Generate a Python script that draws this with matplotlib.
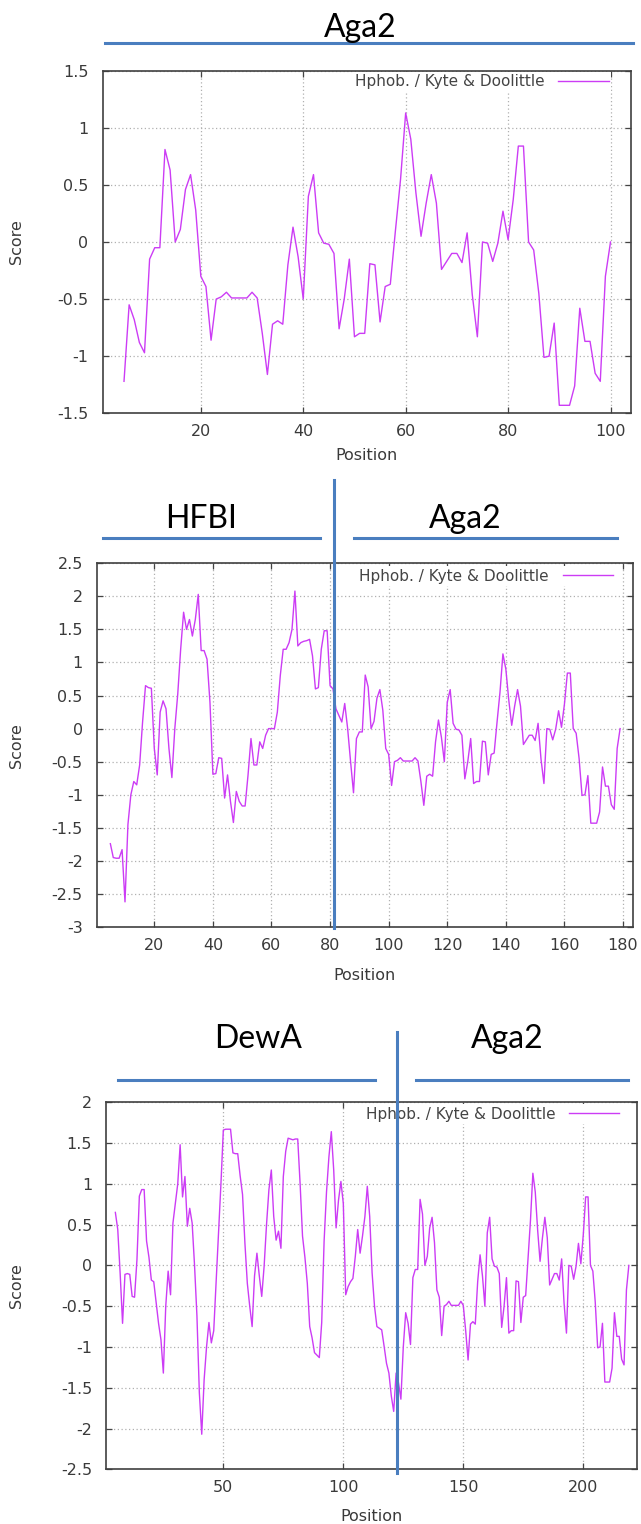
import numpy as np
import matplotlib
matplotlib.use("Agg")
import matplotlib.pyplot as plt
import matplotlib.transforms as mtransforms
from matplotlib.ticker import FuncFormatter, MultipleLocator

# ---------------- data (Kyte & Doolittle hydropathy, window 9) ----------------
# Aga2 alone, positions 5..100
aga2_start = 5
aga2_scores = [
    -1.22, -0.55, -0.68, -0.88, -0.97, -0.15, -0.05, -0.05, 0.81, 0.63,   # 5-14
    0.00, 0.11, 0.46, 0.59, 0.28, -0.30, -0.39, -0.86, -0.50, -0.48,      # 15-24
    -0.44, -0.49, -0.49, -0.49, -0.49, -0.44, -0.49, -0.80, -1.16, -0.72, # 25-34
    -0.69, -0.72, -0.20, 0.13, -0.13, -0.50, 0.40, 0.59, 0.08, -0.01,     # 35-44
    -0.02, -0.10, -0.76, -0.50, -0.15, -0.83, -0.80, -0.80, -0.19, -0.20, # 45-54
    -0.70, -0.39, -0.37, 0.10, 0.55, 1.13, 0.90, 0.43, 0.05, 0.34,        # 55-64
    0.59, 0.34, -0.24, -0.17, -0.10, -0.10, -0.18, 0.08, -0.46, -0.83,    # 65-74
    0.00, -0.01, -0.17, -0.01, 0.27, 0.02, 0.37, 0.84, 0.84, 0.00,        # 75-84
    -0.07, -0.45, -1.01, -1.00, -0.71, -1.43, -1.43, -1.43, -1.26, -0.58, # 85-94
    -0.87, -0.87, -1.15, -1.22, -0.30, 0.00,                              # 95-100
]

# HFBI-Aga2 fusion, positions 5..87 (the rest continues the Aga2 profile)
hfbi_start = 5
hfbi_head = [
    -1.74, -1.95, -1.96, -1.96, -1.83, -2.62, -1.45, -1.00, -0.80, -0.85,  # 5-14
    -0.55, 0.10, 0.65, 0.62, 0.61, -0.30, -0.70, 0.25, 0.42, 0.30,         # 15-24
    -0.30, -0.74, 0.00, 0.52, 1.20, 1.76, 1.50, 1.65, 1.40, 1.65,          # 25-34
    2.03, 1.18, 1.18, 1.05, 0.40, -0.69, -0.68, -0.44, -0.45, -1.05,       # 35-44
    -0.70, -1.10, -1.42, -0.95, -1.10, -1.17, -1.17, -0.70, -0.15, -0.55,  # 45-54
    -0.55, -0.20, -0.30, -0.10, 0.00, 0.00, 0.00, 0.25, 0.80, 1.20,        # 55-64
    1.20, 1.30, 1.50, 2.08, 1.25, 1.30, 1.32, 1.33, 1.35, 1.10,            # 65-74
    0.60, 0.62, 1.20, 1.48, 1.48, 0.65, 0.60, 0.30, 0.20, 0.10,            # 75-84
    0.38, 0.00, -0.50,                                                     # 85-87
]

# DewA-Aga2 fusion, positions 5..127 (the rest continues the Aga2 profile)
dewa_start = 5
dewa_head = [
    0.65, 0.44, -0.10, -0.71, -0.11, -0.10, -0.11, -0.38, -0.39, 0.07,     # 5-14
    0.85, 0.93, 0.93, 0.30, 0.10, -0.18, -0.20, -0.46, -0.71, -0.91,       # 15-24
    -1.32, -0.50, -0.07, -0.36, 0.52, 0.76, 1.00, 1.48, 0.84, 1.09,        # 25-34
    0.48, 0.70, 0.52, 0.00, -0.62, -1.56, -2.07, -1.40, -1.00, -0.70,      # 35-44
    -0.95, -0.80, -0.20, 0.40, 1.00, 1.66, 1.67, 1.67, 1.67, 1.38,         # 45-54
    1.37, 1.37, 1.10, 0.87, 0.27, -0.22, -0.50, -0.75, -0.13, 0.15,        # 55-64
    -0.13, -0.38, -0.01, 0.50, 0.93, 1.17, 0.60, 0.31, 0.42, 0.21,         # 65-74
    1.09, 1.40, 1.56, 1.55, 1.54, 1.55, 1.55, 1.00, 0.36, 0.10,            # 75-84
    -0.22, -0.75, -0.89, -1.07, -1.10, -1.13, -0.70, 0.30, 0.90, 1.33,     # 85-94
    1.64, 1.17, 0.46, 0.80, 1.03, 0.76, -0.36, -0.26, -0.20, -0.16,        # 95-104
    0.11, 0.44, 0.15, 0.36, 0.60, 0.97, 0.60, -0.09, -0.50, -0.75,         # 105-114
    -0.77, -0.79, -0.99, -1.20, -1.32, -1.60, -1.79, -1.32, -1.44, -1.64,  # 115-124
    -1.00, -0.58, -0.71,                                                   # 125-127
]
aga2_tail_from = 4          # Aga2 values from its position 9 onward
hfbi_junction = 81.3        # HFBI | Aga2 boundary (position)
dewa_junction = 122.4       # DewA | Aga2 boundary (position)

legend_label = "Hphob. / Kyte & Doolittle"

panels = [
    dict(start=aga2_start, scores=aga2_scores, xlim=(0.8, 104.0), ylim=(-1.5, 1.5),
         xtick=20, ytick=0.5, junction=None),
    dict(start=hfbi_start, scores=hfbi_head + aga2_scores[aga2_tail_from:],
         xlim=(0.34, 183.3), ylim=(-3.0, 2.5), xtick=20, ytick=0.5, junction=hfbi_junction),
    dict(start=dewa_start, scores=dewa_head + aga2_scores[aga2_tail_from:],
         xlim=(1.1, 222.4), ylim=(-2.5, 2.0), xtick=50, ytick=0.5, junction=dewa_junction),
]

# ---------------- layout (pixels) ----------------
W, H = 641, 1524
rects = [(102.5, 70.7, 631.0, 413.3), (96.7, 563.3, 632.7, 927.0), (106.0, 1102.3, 637.0, 1469.3)]
xlabel_y = [455, 975, 1516.7]
vline_span = [None, (480, 928), (1032, 1473)]
legend_anchor = [(0.962, 0.968), (0.968, 0.965), (0.971, 0.968)]
titles = [
    [("Aga2", 360.7, 36.7, 105, 633, 43)],
    [("HFBI", 200.8, 528.3, 103, 320, 537.7), ("Aga2", 465, 528.3, 354, 617, 537.7)],
    [("DewA", 258, 1048.3, 117.6, 375, 1079.7), ("Aga2", 507, 1048.3, 416, 628, 1079.7)],
]

plt.rcParams['axes.unicode_minus'] = False
plt.rcParams['font.family'] = ['DejaVu Sans']

line_color = '#cc3cf5'
blue = '#4a7ebf'
txt = '#3a3a3a'

fig = plt.figure(figsize=(W / 100, H / 100), dpi=100)
fmt = FuncFormatter(lambda v, p: '%g' % round(v, 2))

for i, pnl in enumerate(panels):
    l, t, r, b = rects[i]
    ax = fig.add_axes([l / W, 1 - b / H, (r - l) / W, (b - t) / H])
    y = np.array(pnl['scores'])
    x = np.arange(pnl['start'], pnl['start'] + len(y))
    ax.plot(x, y, color=line_color, lw=1.0, label=legend_label, zorder=3)
    ax.set_xlim(*pnl['xlim'])
    ax.set_ylim(*pnl['ylim'])
    ax.xaxis.set_major_locator(MultipleLocator(pnl['xtick']))
    ax.yaxis.set_major_locator(MultipleLocator(pnl['ytick']))
    ax.xaxis.set_major_formatter(fmt)
    ax.yaxis.set_major_formatter(fmt)
    ax.grid(True, color='#b0b0b0', linestyle=(0, (1, 2.0)), lw=0.9)
    ax.set_axisbelow(True)
    ax.tick_params(direction='in', length=4, width=0.9, color='#444444',
                   top=True, right=True, labelsize=11.5, labelcolor=txt)
    ax.tick_params(axis='y', pad=10)
    ax.tick_params(axis='x', pad=8)
    for s in ax.spines.values():
        s.set_color('#404040')
        s.set_linewidth(1.2)
    ax.set_xlabel('Position', fontsize=11.5, color=txt)
    ax.set_ylabel('Score', fontsize=11.5, color=txt)
    ax.xaxis.label.set_va('center')
    ax.yaxis.label.set_va('center')
    ax.xaxis.set_label_coords(0.5, (b - xlabel_y[i]) / (b - t))
    ax.yaxis.set_label_coords((16.2 - l) / (r - l), 0.5)
    leg = ax.legend(loc='center right', bbox_to_anchor=legend_anchor[i], markerfirst=False,
                    fontsize=11, handlelength=3.3, handletextpad=0.9, borderpad=0.15,
                    borderaxespad=0, frameon=True, fancybox=False, labelcolor='#444444')
    leg.get_frame().set_facecolor('white')
    leg.get_frame().set_edgecolor('none')
    leg.get_frame().set_alpha(1)
    leg.set_zorder(2.5)

    if pnl['junction'] is not None:
        y0, y1 = vline_span[i]
        trans = mtransforms.blended_transform_factory(ax.transData, ax.transAxes)
        ax.plot([pnl['junction'], pnl['junction']], [(b - y1) / (b - t), (b - y0) / (b - t)],
                transform=trans, color=blue, lw=2.2, clip_on=False, zorder=10)

    for name, tx, ty, lx0, lx1, ly in titles[i]:
        fig.text(tx / W, 1 - ty / H, name, ha='center', va='baseline',
                 fontsize=23, family=['Lato', 'DejaVu Sans'], color='black')
        fig.add_artist(plt.Line2D([lx0 / W, lx1 / W], [1 - ly / H, 1 - ly / H],
                                  transform=fig.transFigure, color=blue, lw=2.2))

fig.savefig('out.png', dpi=100, facecolor='white')
